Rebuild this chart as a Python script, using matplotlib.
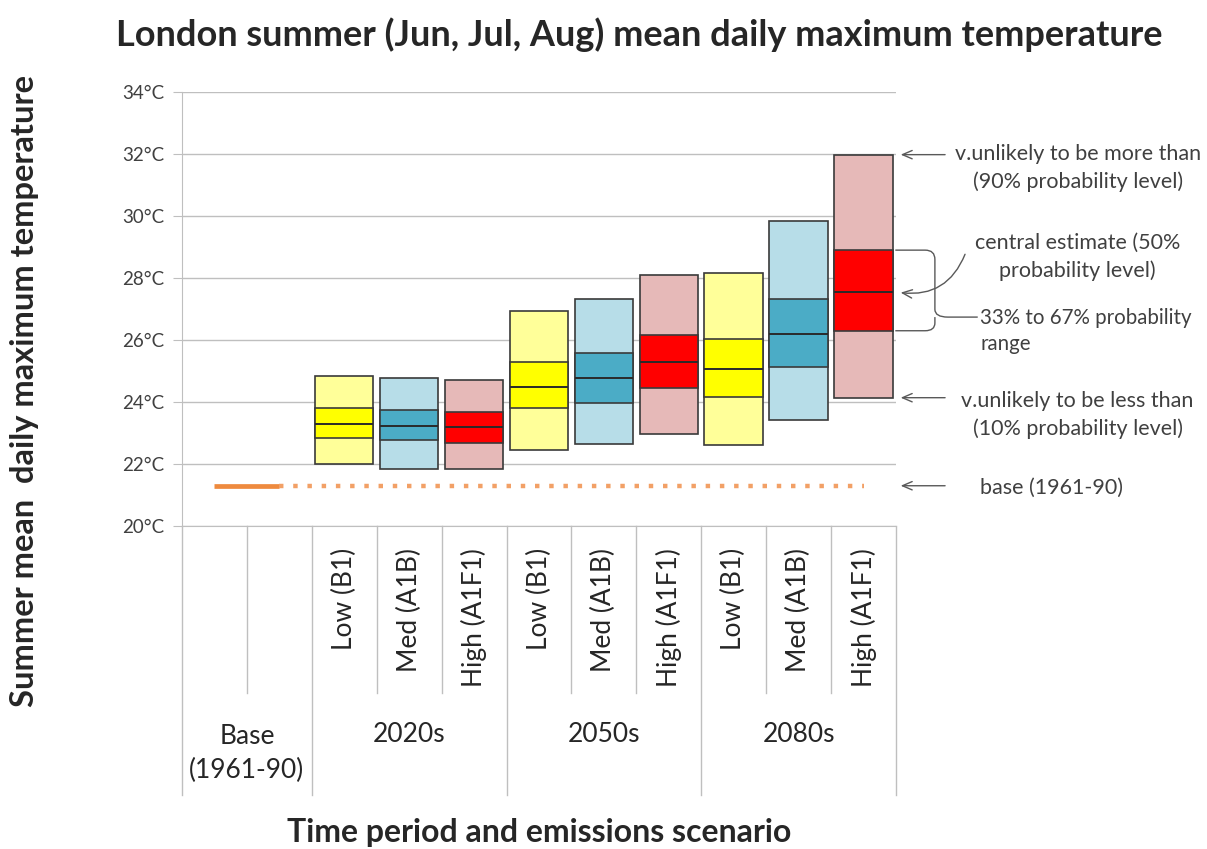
import numpy as np
import matplotlib
matplotlib.use('Agg')
import matplotlib.pyplot as plt
from matplotlib.path import Path
from matplotlib.patches import PathPatch

plt.rcParams['font.family'] = ['Lato', 'DejaVu Sans']

# data (deg C)
periods = ['2020s', '2050s', '2080s']
scenarios = ['Low (B1)', 'Med (A1B)', 'High (A1F1)']
p10 = [22.00, 21.85, 21.85, 22.45, 22.65, 22.96, 22.61, 23.42, 24.14]
p33 = [22.84, 22.76, 22.69, 23.81, 23.98, 24.44, 24.17, 25.14, 26.30]
p50 = [23.28, 23.23, 23.20, 24.49, 24.76, 25.28, 25.08, 26.18, 27.54]
p67 = [23.81, 23.74, 23.69, 25.29, 25.59, 26.16, 26.03, 27.33, 28.90]
p90 = [24.84, 24.76, 24.71, 26.95, 27.33, 28.11, 28.17, 29.85, 31.98]
base_temp = 21.3
yticks = [20, 22, 24, 26, 28, 30, 32, 34]

light = {'Low (B1)': '#FFFF99', 'Med (A1B)': '#B7DDE8', 'High (A1F1)': '#E6B9B8'}
dark = {'Low (B1)': '#FFFF00', 'Med (A1B)': '#4BACC6', 'High (A1F1)': '#FF0000'}
grey = '#595959'

fig = plt.figure(figsize=(12.07, 8.49), dpi=100)
ax = fig.add_axes([0.1508, 0.3804, 0.5915, 0.5112])

ncat = 2 + len(periods) * len(scenarios)
ax.set_xlim(-0.5, ncat - 0.5)
ax.set_ylim(20, 34)

# gridlines
ax.set_yticks(yticks)
ax.set_yticklabels([f'{t}\u00b0C' for t in yticks], fontsize=13.5, color='#404040')
ax.yaxis.grid(True, color='#BFBFBF', lw=1)
ax.set_axisbelow(True)
ax.tick_params(axis='y', length=6.5, color='#BFBFBF', pad=6)
ax.set_xticks([])
for s in ['top', 'right']:
    ax.spines[s].set_visible(False)
for s in ['left', 'bottom']:
    ax.spines[s].set_color('#BFBFBF')

# boxes
i = 0
for p in periods:
    for sc in scenarios:
        x = 2 + i
        ax.bar(x, p90[i] - p10[i], bottom=p10[i], width=0.9, color=light[sc],
               edgecolor='#3A3A3A', lw=1.2, zorder=3)
        ax.bar(x, p67[i] - p33[i], bottom=p33[i], width=0.9, color=dark[sc],
               edgecolor='#3A3A3A', lw=1.2, zorder=4)
        ax.hlines(p50[i], x - 0.45, x + 0.45, color='#2A2A2A', lw=1.4, zorder=5)
        i += 1

# base line
xs = np.arange(ncat)
ax.plot(xs[:2], [base_temp] * 2, color='#EE8A3E', lw=3.4, solid_capstyle='butt', zorder=3)
ax.plot(xs[1:], [base_temp] * (ncat - 1), color='#F2A066', lw=3.2,
        linestyle=(0, (1, 2.2)), dash_capstyle='butt', zorder=3)

# category axis below
tr = ax.get_xaxis_transform()
for b in np.arange(-0.5, ncat, 1.0):
    long = b in (-0.5, 1.5, 4.5, 7.5, 10.5)
    ax.plot([b, b], [0, -0.62 if long else -0.385], transform=tr, color='#BFBFBF',
            lw=1, clip_on=False)
i = 0
for j, p in enumerate(periods):
    for sc in scenarios:
        ax.text(2 + i, -0.05, sc, transform=tr, rotation=90, ha='center', va='top',
                fontsize=19, color='#262626')
        i += 1
    ax.text(3 + 3 * j, -0.48, p, transform=tr, ha='center', va='center',
            fontsize=19, color='#262626')
ax.text(0.5, -0.525, 'Base\n(1961-90)', transform=tr, ha='center', va='center',
        fontsize=19, color='#262626', linespacing=1.45)

# annotations on the right
arr = dict(arrowstyle='->,head_length=0.7,head_width=0.3', color=grey, lw=1)
for y in [p90[-1], p10[-1], base_temp]:
    ax.annotate('', xy=(10.53, y), xytext=(11.3, y), arrowprops=arr, annotation_clip=False)
ax.annotate('', xy=(10.53, p50[-1]), xytext=(11.58, 28.85), annotation_clip=False,
            arrowprops=dict(arr, connectionstyle='arc3,rad=-0.4'))

tk = dict(fontsize=15.5, color='#404040', clip_on=False, va='center', linespacing=1.4)
ax.text(13.3, 31.55, 'v.unlikely to be more than\n(90% probability level)', ha='center', **tk)
ax.text(13.3, 28.68, 'central estimate (50%\nprobability level)', ha='center', **tk)
ax.text(11.8, 26.29, '33% to 67% probability\nrange', ha='left', **dict(tk, fontsize=14.8))
ax.text(13.3, 23.58, 'v.unlikely to be less than\n(10% probability level)', ha='center', **tk)
ax.text(11.8, 21.23, 'base (1961-90)', ha='left', **tk)

# curly brace for the 33-67% band of the last box
top, bot, mid = p67[-1], p33[-1], 26.74
verts = [(10.49, top), (10.95, top), (11.10, top), (11.10, top - 0.3),
         (11.10, mid + 0.25), (11.10, mid), (11.30, mid), (11.76, mid),
         (11.10, mid), (11.10, bot + 0.25), (11.10, bot), (10.95, bot), (10.49, bot)]
codes = [Path.MOVETO, Path.LINETO, Path.CURVE3, Path.CURVE3, Path.LINETO,
         Path.CURVE3, Path.CURVE3, Path.LINETO,
         Path.MOVETO, Path.LINETO, Path.CURVE3, Path.CURVE3, Path.LINETO]
ax.add_patch(PathPatch(Path(verts, codes), fill=False, edgecolor=grey, lw=1, clip_on=False))

fig.text(0.53, 0.959, 'London summer (Jun, Jul, Aug) mean daily maximum temperature',
         ha='center', va='center', fontsize=26, fontweight='bold', color='#262626')
fig.text(0.02, 0.54, 'Summer mean  daily maximum temperature', rotation=90,
         ha='center', va='center', fontsize=23.5, fontweight='bold', color='#262626')
fig.text(0.447, 0.019, 'Time period and emissions scenario', ha='center', va='center',
         fontsize=23, fontweight='bold', color='#262626')

fig.savefig('out.png', dpi=100)
